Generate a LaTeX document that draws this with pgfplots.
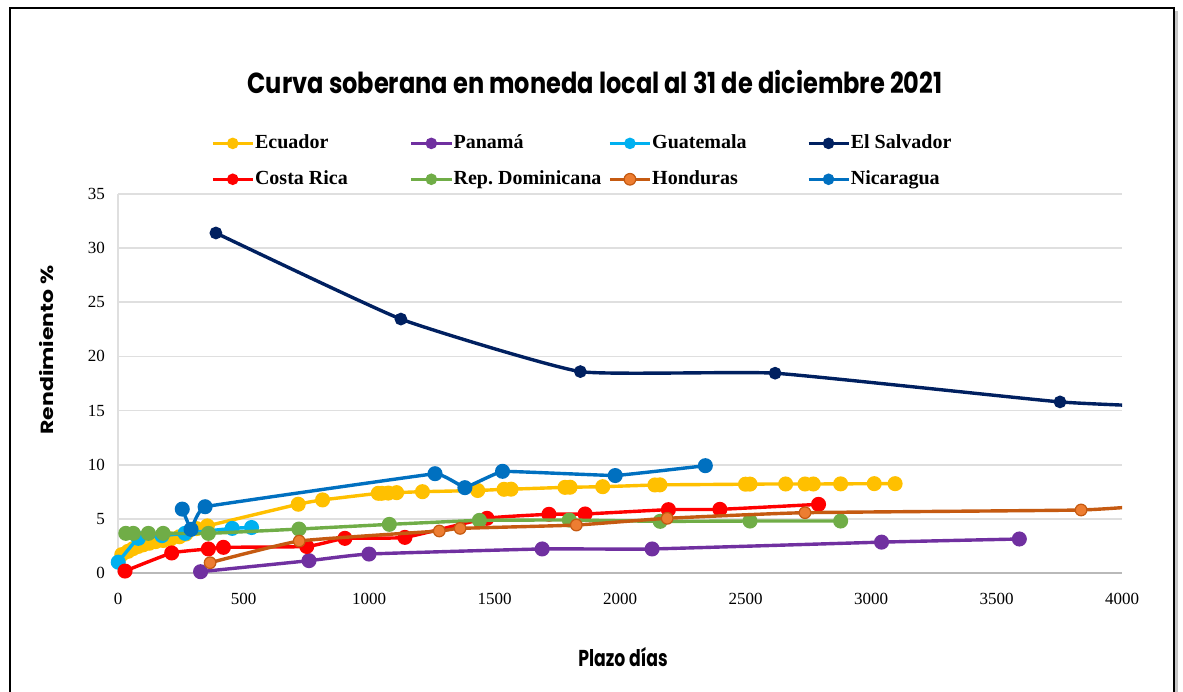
\documentclass[border=0pt]{standalone}
\usepackage{pgfplots}
\pgfplotsset{compat=1.18}
\usepackage{fontspec}
\setmainfont{Liberation Serif}
\newfontfamily\gothic{Poppins}
\definecolor{ecu}{HTML}{FFC000}
\definecolor{pan}{HTML}{7030A0}
\definecolor{gua}{HTML}{00B0F0}
\definecolor{sal}{HTML}{002060}
\definecolor{cri}{HTML}{FF0000}
\definecolor{dom}{HTML}{70AD47}
\definecolor{hon}{HTML}{C55A11}
\definecolor{honm}{HTML}{ED7D31}
\definecolor{nic}{HTML}{0070C0}
\frenchspacing
\newcommand{\lgn}[1]{\makebox[77pt][l]{#1}}
\pgfplotsset{ser/.style={color=#1, line width=1.7pt, smooth, tension=0.25, mark=*, mark size=2.9pt, mark options={solid, fill=#1, draw=none}}}
\begin{document}
\begin{tikzpicture}
\useasboundingbox (0,0) rectangle (591.5pt,345.5pt);
\fill[gray!45] (7pt,-10pt) rectangle (589pt,340pt);
\fill[white] (5pt,-10pt) rectangle (587pt,341.5pt);
\draw[black, line width=1pt] (5pt,-10pt) -- (5pt,341.5pt) -- (587pt,341.5pt) -- (587pt,-10pt);
\begin{axis}[
  at={(59pt,59pt)}, anchor=south west, scale only axis,
  width=502pt, height=189.5pt,
  xmin=0, xmax=4000, ymin=0, ymax=35,
  xtick={0,500,...,4000}, ytick={0,5,...,35},
  ymajorgrids, grid style={gray!25, line width=0.8pt},
  axis lines*=left,
  x axis line style={gray!55, line width=1.2pt},
  y axis line style={gray!25, line width=0.8pt},
  major tick length=0pt,
  /pgf/number format/1000 sep={},
  /pgf/number format/assume math mode=true,
  scaled ticks=false,
  ticklabel style={font=\fontsize{8.5}{10}\selectfont},
  xticklabel style={yshift=-6.5pt},
  yticklabel style={xshift=-3pt},
  clip mode=individual,
  legend columns=4,
  legend style={at={(0.0863,1.178)}, anchor=north west, draw=none, fill=none,
    font=\bfseries\fontsize{10}{12}\selectfont, row sep=5.5pt,
    nodes={inner xsep=0.3pt}},
  legend image code/.code={\draw[mark repeat=2,mark phase=2, mark size=2pt] plot coordinates {(0pt,0pt)(10pt,0pt)(20pt,0pt)};},
]
\addplot[ser=ecu] coordinates {(15,1.7)(40,2.0)(60,2.25)(80,2.45)(100,2.6)(125,2.75)(150,2.9)(180,3.0)(210,3.15)(245,3.35)(270,3.6)(313,4.1)(356,4.35)(718,6.35)(815,6.75)(1037,7.36)(1051,7.36)(1077,7.38)(1110,7.42)(1213,7.51)(1433,7.62)(1538,7.73)(1566,7.74)(1781,7.91)(1801,7.92)(1931,7.97)(2139,8.13)(2159,8.14)(2500,8.2)(2518,8.21)(2660,8.22)(2737,8.22)(2770,8.22)(2879,8.23)(3013,8.25)(3096,8.25)};
\addlegendentry{\lgn{Ecuador}}
\addplot[ser=pan] coordinates {(329,0.12)(761,1.14)(1000,1.75)(1690,2.22)(2128,2.22)(3042,2.85)(3591,3.14)};
\addlegendentry{\lgn{Panamá}}
\addplot[ser=gua] coordinates {(1,1.0)(81,3.2)(175,3.45)(267,3.66)(455,4.12)(532,4.2)};
\addlegendentry{\lgn{Guatemala}}
\addplot[ser=sal, mark size=2.3pt] coordinates {(390,31.4)(1127,23.45)(1842,18.6)(2618,18.45)(3753,15.8)(4300,15.25)};
\addlegendentry{\lgn{El Salvador}}
\addplot[ser=cri] coordinates {(28,0.18)(214,1.85)(360,2.22)(420,2.37)(752,2.45)(904,3.2)(1143,3.29)(1470,5.05)(1717,5.42)(1861,5.45)(2193,5.85)(2398,5.88)(2791,6.34)};
\addlegendentry{\lgn{Costa Rica}}
\addplot[ser=dom] coordinates {(31,3.66)(61,3.66)(121,3.66)(180,3.66)(360,3.66)(721,4.06)(1081,4.49)(1440,4.86)(1798,4.89)(2160,4.77)(2518,4.8)(2879,4.8)};
\addlegendentry{\lgn{Rep. Dominicana}}
\addplot[ser=hon, mark options={fill=honm, draw=hon, line width=0.6pt, mark size=2.9pt}] coordinates {(367,0.95)(722,2.95)(1280,3.88)(1363,4.12)(1826,4.43)(2188,5.05)(2737,5.57)(3837,5.82)(4200,6.4)};
\addlegendentry{\lgn{Honduras}}
\addplot[ser=nic, tension=0.1] coordinates {(256,5.9)(291,4.03)(347,6.12)(1263,9.17)(1382,7.88)(1532,9.39)(1981,9.0)(2340,9.91)};
\addlegendentry{\lgn{Nicaragua}}
\end{axis}
\node[font=\gothic\bfseries\fontsize{14.5}{16}\selectfont] at (297.5pt,304.5pt) {\scalebox{0.83}[1]{Curva soberana en moneda local al 31 de diciembre 2021}};
\node[font=\gothic\bfseries\fontsize{11}{13}\selectfont, rotate=90] at (23.5pt,170.5pt) {\scalebox{1}[0.8]{Rendimiento \%}};
\node[font=\gothic\bfseries\fontsize{11.5}{13}\selectfont] at (311.5pt,17pt) {\scalebox{0.75}[1]{Plazo días}};
\end{tikzpicture}
\end{document}
